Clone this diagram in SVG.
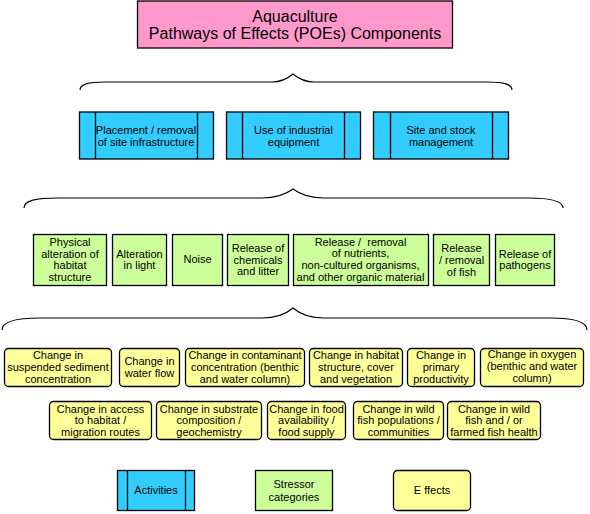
<svg xmlns="http://www.w3.org/2000/svg" width="590" height="514" viewBox="0 0 590 514">
<style>
text{font-family:"Liberation Sans",Arial,sans-serif;font-size:11px;fill:#000;text-anchor:middle}
.t{font-size:16px}
.box{stroke:#000;stroke-width:1.3}
.act{fill:#33CCFF}
.str{fill:#CCFF99}
.eff{fill:#FFFF99}
.brace{fill:none;stroke:#000;stroke-width:1.2}
</style>
<rect width="590" height="514" fill="#fff"/>
<g id="title">
<rect class="box" x="137.5" y="1" width="315" height="47" fill="#FF99CC"/>
<text class="t" x="295" y="21.5">Aquaculture</text>
<text class="t" x="295" y="39">Pathways of Effects (POEs) Components</text>
</g>
<g id="connectors">
<path class="brace" d="M80,90 C80,84 88,82 105,82 L272,82 C281,82 287,79 293,74 C299,79 305,82 314,82 L487,82 C504,82 512,84 512,90"/>
<path class="brace" d="M24,208 C24,201 34,198 58,198 L262,198 C276,198 285,195 293,189 C301,195 310,198 324,198 L528,198 C552,198 563,201 563,208"/>
<path class="brace" d="M2,330 C2,322 14,318 40,318 L262,318 C277,318 286,314 293,308 C300,314 309,318 324,318 L550,318 C575,318 587,322 587,330"/>
</g>
<g id="act1">
<rect class="box act" x="79.5" y="112" width="134" height="47"/>
<line class="box" x1="95.5" y1="112" x2="95.5" y2="159"/>
<line class="box" x1="197.5" y1="112" x2="197.5" y2="159"/>
<text x="146" y="134">Placement / removal</text>
<text x="146" y="146">of site infrastructure</text>
</g>
<g id="act2">
<rect class="box act" x="226.5" y="112" width="134" height="47"/>
<line class="box" x1="242.5" y1="112" x2="242.5" y2="159"/>
<line class="box" x1="344.5" y1="112" x2="344.5" y2="159"/>
<text x="293.5" y="134">Use of industrial</text>
<text x="293.5" y="146">equipment</text>
</g>
<g id="act3">
<rect class="box act" x="373.5" y="112" width="135" height="47"/>
<line class="box" x1="390.5" y1="112" x2="390.5" y2="159"/>
<line class="box" x1="492.5" y1="112" x2="492.5" y2="159"/>
<text x="441" y="134">Site and stock</text>
<text x="441" y="146">management</text>
</g>
<g id="str1">
<rect class="box str" x="33.5" y="234.5" width="73" height="51"/>
<text x="70" y="246">Physical</text>
<text x="70" y="257.5">alteration of</text>
<text x="70" y="269">habitat</text>
<text x="70" y="281">structure</text>
</g>
<g id="str2">
<rect class="box str" x="112.5" y="234.5" width="54" height="51"/>
<text x="139.5" y="257.5">Alteration</text>
<text x="139.5" y="269">in light</text>
</g>
<g id="str3">
<rect class="box str" x="172.5" y="234.5" width="50" height="51"/>
<text x="197.5" y="263">Noise</text>
</g>
<g id="str4">
<rect class="box str" x="227.5" y="234.5" width="61" height="51"/>
<text x="258" y="252">Release of</text>
<text x="258" y="263.5">chemicals</text>
<text x="258" y="275">and litter</text>
</g>
<g id="str5">
<rect class="box str" x="293.5" y="234.5" width="135" height="51"/>
<text x="360.5" y="246">Release / &#160;removal</text>
<text x="360.5" y="257">of nutrients,</text>
<text x="360.5" y="269">non-cultured organisms,</text>
<text x="360.5" y="281">and other organic material</text>
</g>
<g id="str6">
<rect class="box str" x="433.5" y="234.5" width="56" height="51"/>
<text x="461.5" y="252">Release</text>
<text x="461.5" y="264">/ removal</text>
<text x="461.5" y="276">of fish</text>
</g>
<g id="str7">
<rect class="box str" x="495.5" y="234.5" width="59" height="51"/>
<text x="525" y="257.5">Release of</text>
<text x="525" y="269">pathogens</text>
</g>
<g id="eff1">
<rect class="box eff" x="4.5" y="348.5" width="107" height="38" rx="4"/>
<text x="58" y="358.5">Change in</text>
<text x="58" y="370.5">suspended sediment</text>
<text x="58" y="382.5">concentration</text>
</g>
<g id="eff2">
<rect class="box eff" x="119.5" y="348.5" width="60" height="38" rx="4"/>
<text x="149.5" y="365">Change in</text>
<text x="149.5" y="376.5">water flow</text>
</g>
<g id="eff3">
<rect class="box eff" x="185.5" y="348.5" width="119" height="38" rx="4"/>
<text x="245" y="358.5">Change in contaminant</text>
<text x="245" y="370.5">concentration (benthic</text>
<text x="245" y="382.5">and water column)</text>
</g>
<g id="eff4">
<rect class="box eff" x="309.5" y="348.5" width="93" height="38" rx="4"/>
<text x="356" y="358.5">Change in habitat</text>
<text x="356" y="370.5">structure, cover</text>
<text x="356" y="382.5">and vegetation</text>
</g>
<g id="eff5">
<rect class="box eff" x="407.5" y="348.5" width="67" height="38" rx="4"/>
<text x="441" y="358.5">Change in</text>
<text x="441" y="370.5">primary</text>
<text x="441" y="382.5">productivity</text>
</g>
<g id="eff6">
<rect class="box eff" x="480.5" y="348.5" width="103" height="38" rx="4"/>
<text x="532" y="358">Change in oxygen</text>
<text x="532" y="370">(benthic and water</text>
<text x="532" y="382">column)</text>
</g>
<g id="eff7">
<rect class="box eff" x="49.5" y="401.5" width="102" height="38" rx="4"/>
<text x="100.5" y="412.5">Change in access</text>
<text x="100.5" y="424">to habitat /</text>
<text x="100.5" y="436">migration routes</text>
</g>
<g id="eff8">
<rect class="box eff" x="156.5" y="401.5" width="105" height="38" rx="4"/>
<text x="209" y="412.5">Change in substrate</text>
<text x="209" y="424">composition /</text>
<text x="209" y="436">geochemistry</text>
</g>
<g id="eff9">
<rect class="box eff" x="267.5" y="401.5" width="78" height="38" rx="4"/>
<text x="306.5" y="412.5">Change in food</text>
<text x="306.5" y="424">availability /</text>
<text x="306.5" y="436">food supply</text>
</g>
<g id="eff10">
<rect class="box eff" x="353.5" y="401.5" width="90" height="38" rx="4"/>
<text x="398.5" y="412.5">Change in wild</text>
<text x="398.5" y="424">fish populations /</text>
<text x="398.5" y="436">communities</text>
</g>
<g id="eff11">
<rect class="box eff" x="447.5" y="401.5" width="93" height="38" rx="4"/>
<text x="494" y="412.5">Change in wild</text>
<text x="494" y="424">fish and / or</text>
<text x="494" y="436">farmed fish health</text>
</g>
<g id="legend-activities">
<rect class="box act" x="117.5" y="470.5" width="77" height="40"/>
<line class="box" x1="127.5" y1="470.5" x2="127.5" y2="510.5"/>
<line class="box" x1="185.5" y1="470.5" x2="185.5" y2="510.5"/>
<text x="156" y="494">Activities</text>
</g>
<g id="legend-stressors">
<rect class="box str" x="255.5" y="470.5" width="77" height="40"/>
<text x="294" y="487.5">Stressor</text>
<text x="294" y="501">categories</text>
</g>
<g id="legend-effects">
<rect class="box eff" x="393.5" y="470.5" width="77" height="40" rx="4"/>
<text x="432" y="494">E ffects</text>
</g>
</svg>
